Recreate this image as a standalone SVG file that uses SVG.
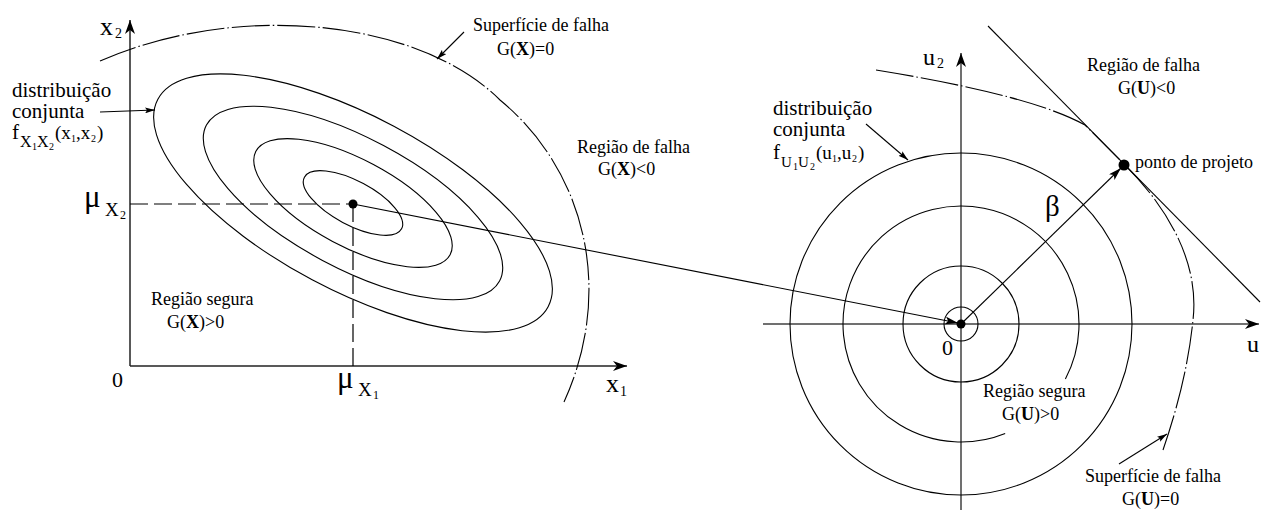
<svg xmlns="http://www.w3.org/2000/svg" width="1261" height="511" viewBox="0 0 1261 511">
<style>
.ln{fill:none;stroke:#000;stroke-width:1.1}
.ax{fill:none;stroke:#222;stroke-width:1.5}
.rax{fill:none;stroke:#707070;stroke-width:2}
.dd{fill:none;stroke:#000;stroke-width:1.1;stroke-dasharray:38 3 1.5 3}
.dash{fill:none;stroke:#000;stroke-width:1.2;stroke-dasharray:18 6}
.t{font-family:"Liberation Serif","Times New Roman",serif;fill:#000}
.s18{font-size:18px}
.s22{font-size:21px}
</style>
<defs>
<marker id="axh" viewBox="0 0 14 10" refX="14" refY="5" markerWidth="14" markerHeight="10" orient="auto" markerUnits="userSpaceOnUse"><path d="M0,0 L14,5 L0,10 L4,5 z" fill="#000"/></marker>
<marker id="sah" viewBox="0 0 10 6" refX="10" refY="3" markerWidth="10" markerHeight="6" orient="auto" markerUnits="userSpaceOnUse"><path d="M0,0 L10,3 L0,6 L2,3 z" fill="#000"/></marker>
<marker id="mah" viewBox="0 0 13 8" refX="13" refY="4" markerWidth="13" markerHeight="8" orient="auto" markerUnits="userSpaceOnUse"><path d="M0,0 L13,4 L0,8 L3,4 z" fill="#000"/></marker>
</defs>
<rect width="1261" height="511" fill="#fff"/>

<g id="left-plot">
  <line class="ax" x1="130" y1="366" x2="130" y2="20" marker-end="url(#axh)"/>
  <line class="ax" x1="130" y1="366" x2="627" y2="366" marker-end="url(#axh)"/>
  <g transform="translate(353,203) rotate(28)" class="ln">
    <ellipse rx="55" ry="22"/>
    <ellipse rx="110" ry="43.5"/>
    <ellipse rx="166" ry="65"/>
    <ellipse rx="221" ry="87"/>
  </g>
  <line class="dash" x1="130" y1="204" x2="353" y2="204"/>
  <line class="dash" x1="353" y1="204" x2="353" y2="366"/>
  <path class="dd" d="M100,61 C240,0 420,20 500,100 C585,170 615,290 564,402"/>
  <circle cx="353" cy="204" r="4.5" fill="#000"/>
  <text class="t" x="100" y="35" font-size="26">x<tspan x="115" y="38" font-size="14">2</tspan></text>
  <text class="t" x="606" y="392" font-size="26">x<tspan x="620" y="396" font-size="14">1</tspan></text>
  <text class="t" x="112" y="387" font-size="22">0</text>
  <text class="t" x="84" y="207" font-size="31">μ<tspan x="105" y="216" font-size="19">X</tspan><tspan x="120" y="219" font-size="12">2</tspan></text>
  <text class="t" x="337" y="388" font-size="31">μ<tspan x="358" y="396" font-size="19">X</tspan><tspan x="373" y="399" font-size="12">1</tspan></text>
</g>

<g id="left-labels">
  <text class="t s22" x="12" y="97">distribuição</text>
  <text class="t s22" x="12" y="118">conjunta</text>
  <text class="t" x="12" y="139" font-size="21">f<tspan x="20" y="147" font-size="16">X</tspan><tspan x="32" y="150" font-size="10">1</tspan><tspan x="37" y="147" font-size="16">X</tspan><tspan x="49" y="150" font-size="10">2</tspan><tspan x="55" y="139" font-size="19">(x</tspan><tspan x="71" y="142" font-size="10">1</tspan><tspan x="76" y="139" font-size="19">,x</tspan><tspan x="91" y="142" font-size="10">2</tspan><tspan x="97" y="139" font-size="19">)</tspan></text>
  <text class="t s18" x="473" y="31">Superfície de falha</text>
  <text class="t s18" x="497" y="55">G(<tspan font-weight="bold">X</tspan>)=0</text>
  <text class="t s18" x="577" y="153">Região de falha</text>
  <text class="t s18" x="598" y="175">G(<tspan font-weight="bold">X</tspan>)&lt;0</text>
  <text class="t s18" x="151" y="305">Região segura</text>
  <text class="t s18" x="167" y="328">G(<tspan font-weight="bold">X</tspan>)&gt;0</text>
</g>

<g id="right-plot">
  <line class="rax" x1="961" y1="510" x2="961" y2="53" marker-end="url(#axh)"/>
  <line class="rax" x1="763" y1="324" x2="1259" y2="324" marker-end="url(#axh)"/>
  <circle class="ln" cx="961" cy="324" r="17"/>
  <circle class="ln" cx="961" cy="324" r="58"/>
  <path class="ln" d="M1005.2,433.4 A118,118 0 1 1 1065.4,379"/>
  <circle class="ln" cx="961" cy="324" r="171"/>
  <path class="dd" d="M876,70 C950,82 1040,100 1085,125 L1125,165 C1165,205 1200,260 1193,320 C1188,370 1175,415 1163,450"/>
  <line class="ln" x1="988" y1="26" x2="1260" y2="302"/>
  <circle cx="961" cy="324" r="4.5" fill="#000"/>
  <circle cx="1124" cy="165" r="5.5" fill="#000"/>
  <text class="t" x="923" y="65" font-size="24">u<tspan x="937" y="68" font-size="14">2</tspan></text>
  <text class="t" x="1247" y="352" font-size="24">u</text>
  <text class="t" x="942" y="355" font-size="22">0</text>
  <text class="t" x="1045" y="216" font-size="29">β</text>
</g>

<g id="right-labels">
  <text class="t s22" x="773" y="115">distribuição</text>
  <text class="t s22" x="773" y="136">conjunta</text>
  <text class="t" x="773" y="159" font-size="21">f<tspan x="781" y="167" font-size="15">U</tspan><tspan x="793" y="170" font-size="10">1</tspan><tspan x="798" y="167" font-size="15">U</tspan><tspan x="810" y="170" font-size="10">2</tspan><tspan x="816" y="159" font-size="19">(u</tspan><tspan x="832" y="162" font-size="10">1</tspan><tspan x="837" y="159" font-size="19">,u</tspan><tspan x="852" y="162" font-size="10">2</tspan><tspan x="858" y="159" font-size="19">)</tspan></text>
  <text class="t s18" x="1087" y="71">Região de falha</text>
  <text class="t s18" x="1118" y="94">G(<tspan font-weight="bold">U</tspan>)&lt;0</text>
  <text class="t s18" x="1135" y="168">ponto de projeto</text>
  <text class="t s18" x="983" y="397">Região segura</text>
  <text class="t s18" x="1002" y="420">G(<tspan font-weight="bold">U</tspan>)&gt;0</text>
  <text class="t s18" x="1085" y="482">Superfície de falha</text>
  <text class="t s18" x="1122" y="505">G(<tspan font-weight="bold">U</tspan>)=0</text>
</g>

<g id="connectors">
  <line class="ln" x1="353" y1="204" x2="958" y2="323" marker-end="url(#mah)"/>
  <line class="ln" x1="961" y1="324" x2="1121" y2="168" marker-end="url(#mah)"/>
  <line class="ln" x1="100" y1="112" x2="155" y2="110" marker-end="url(#sah)"/>
  <line class="ln" x1="464" y1="32" x2="437" y2="59" marker-end="url(#sah)"/>
  <line class="ln" x1="866" y1="124" x2="908" y2="160" marker-end="url(#sah)"/>
  <line class="ln" x1="1119" y1="464" x2="1167" y2="434" marker-end="url(#sah)"/>
</g>
</svg>
